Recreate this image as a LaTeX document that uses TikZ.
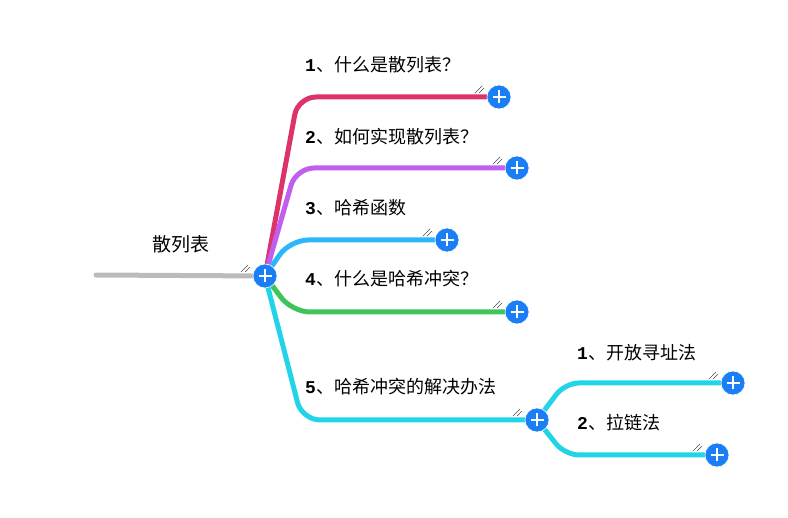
\documentclass[tikz,border=0pt]{standalone}
\usepackage{fontspec}
\setmainfont{Noto Sans CJK SC}
\newfontfamily\monofont{Liberation Mono}
\usetikzlibrary{positioning, backgrounds}
\definecolor{plusblue}{HTML}{1A7EF7}
\definecolor{cred}{HTML}{DC3468}
\definecolor{cpurple}{HTML}{C05EF0}
\definecolor{cblue}{HTML}{2CB8F8}
\definecolor{cgreen}{HTML}{3EC45A}
\definecolor{ccyan}{HTML}{22D4E8}
\definecolor{cgray}{HTML}{BBBBBB}
\tikzset{
  plus/.style={circle, fill=plusblue, draw=white, line width=0.6pt, minimum size=24pt, inner sep=0pt,
    path picture={\draw[white, line width=2.8pt]
      ([xshift=-6.5pt]path picture bounding box.center) -- ([xshift=6.5pt]path picture bounding box.center)
      ([yshift=-6.5pt]path picture bounding box.center) -- ([yshift=6.5pt]path picture bounding box.center);}},
  branch/.style={line width=5pt, line cap=round, rounded corners=18pt},
  lbl/.style={anchor=west, inner sep=0pt, font=\fontsize{18}{21}\selectfont},
  grip/.style={line width=0.5pt, black!70}}
\newcommand{\num}[1]{{\monofont\bfseries #1}}
\newcommand{\grip}[1]{%
  \draw[grip] ([shift={(-24,-4)}]#1.center) -- ++(7,-7);
  \draw[grip] ([shift={(-20,-4)}]#1.center) -- ++(5,-5);}

\begin{document}
\begin{tikzpicture}[x=1pt, y=-1pt]
\useasboundingbox (0,0) rectangle (788,518);
% plus buttons
\node[plus] (root) at (265,276) {};
\node[plus] (p1) at (499,97) {};
\node[plus] (p2) at (517,168) {};
\node[plus] (p3) at (447,240) {};
\node[plus] (p4) at (517,312) {};
\node[plus] (p5) at (537,420) {};
\node[plus] (q1) at (733,383) {};
\node[plus] (q2) at (717,455) {};
\coordinate (tail) at (96,275);
\coordinate (k1) at (298,97);
\coordinate (k2) at (296,168);
\coordinate (k3) at (290,240);
\coordinate (k4) at (292,312);
\coordinate (k5) at (302,420);
\coordinate (m1) at (565,383);
\coordinate (m2) at (565,455);
\begin{scope}[on background layer]
\draw[branch, cgray] (tail) -- (root.center);
\draw[branch, cred] (root.center) -- (k1) -- (p1.center);
\draw[branch, cpurple] (root.center) -- (k2) -- (p2.center);
\draw[branch, cblue] (root.center) -- (k3) -- (p3.center);
\draw[branch, cgreen] (root.center) -- (k4) -- (p4.center);
\draw[branch, ccyan] (root.center) -- (k5) -- (p5.center);
\draw[branch, ccyan, rounded corners=14pt] (p5.center) -- (m1) -- (q1.center);
\draw[branch, ccyan, rounded corners=14pt] (p5.center) -- (m2) -- (q2.center);
\end{scope}
% labels
\node[anchor=center, inner sep=0pt, font=\fontsize{19}{22}\selectfont] (t0) at (181,244) {散列表};
\node[lbl] (t1) at (305,65) {\num{1}、什么是散列表？};
\node[lbl] (t2) at (305,137) {\num{2}、如何实现散列表？};
\node[lbl] (t3) at (305,208) {\num{3}、哈希函数};
\node[lbl] (t4) at (305,279) {\num{4}、什么是哈希冲突？};
\node[lbl] (t5) at (305,387) {\num{5}、哈希冲突的解决办法};
\node[lbl] (s1) at (577,353) {\num{1}、开放寻址法};
\node[lbl] (s2) at (577,423) {\num{2}、拉链法};
% grips
\grip{root}
\grip{p1}
\grip{p2}
\grip{p3}
\grip{p4}
\grip{p5}
\grip{q1}
\grip{q2}
\end{tikzpicture}
\end{document}
